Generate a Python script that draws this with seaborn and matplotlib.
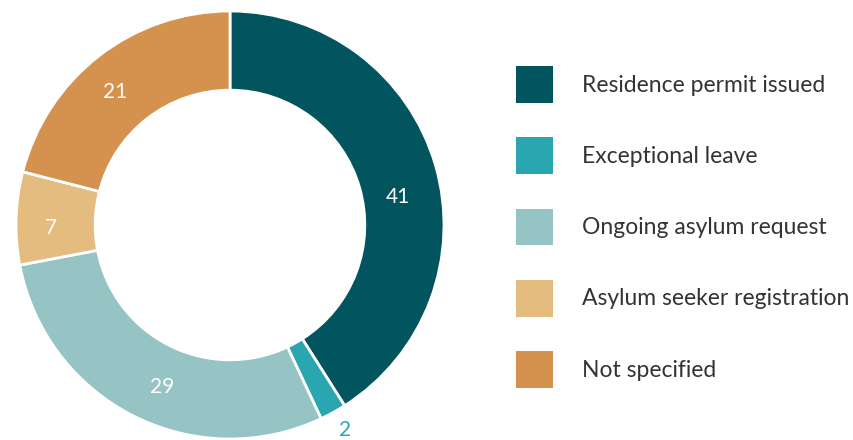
import matplotlib
matplotlib.use("Agg")
import matplotlib.pyplot as plt
import seaborn as sns
import numpy as np
from matplotlib.patches import Patch

categories = ["Residence permit issued", "Exceptional leave", "Ongoing asylum request",
              "Asylum seeker registration", "Not specified"]
values = [41, 2, 29, 7, 21]
colors = ["#02545F", "#2AA6B0", "#96C3C3", "#E4BC7F", "#D4924E"]
label_colors = ["white", "#2AA6B0", "white", "white", "white"]
label_radius = [0.795, 1.10, 0.82, 0.837, 0.82]
label_angle_shift = [-6.7, 0.5, 4.2, 2.8, 3.0]

sns.set_theme(style="white")
plt.rcParams['font.family'] = ['Lato', 'DejaVu Sans']

fig = plt.figure(figsize=(8.54, 4.40), dpi=100)
cx, cy, r = 230, 225, 214
ax = fig.add_axes([(cx - r) / 854, (440 - cy - r) / 440, 2 * r / 854, 2 * r / 440])
wedges, _ = ax.pie(values, colors=colors, startangle=90, counterclock=False,
                   wedgeprops=dict(width=0.37, edgecolor="white", linewidth=2))
ax.set_xlim(-1, 1)
ax.set_ylim(-1, 1)
ax.set_aspect("equal")
ax.axis("off")

for w, v, lc, lr, sh in zip(wedges, values, label_colors, label_radius, label_angle_shift):
    ang = np.deg2rad((w.theta1 + w.theta2) / 2 + sh)
    ax.text(lr * np.cos(ang), lr * np.sin(ang), str(v), color=lc, fontsize=15,
            ha="center", va="center")

fs = 16.5
handles = [Patch(facecolor=c, edgecolor="none") for c in colors]
fig.legend(handles, categories, loc="upper left", bbox_to_anchor=(516 / 854, 1 - 66 / 440),
           frameon=False, fontsize=fs, handlelength=1.62, handleheight=2.1,
           labelspacing=1.5, handletextpad=1.27, labelcolor="#333333", borderaxespad=0,
           borderpad=0)

fig.savefig("out.png", dpi=100)
